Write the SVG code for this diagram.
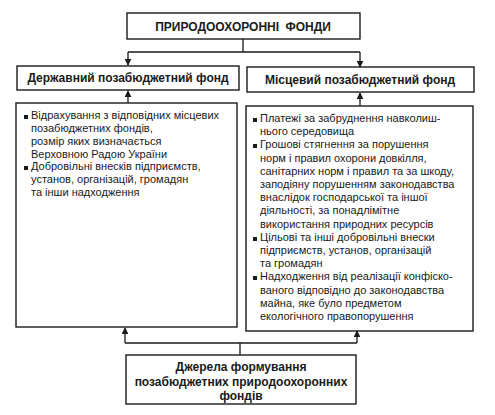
<svg xmlns="http://www.w3.org/2000/svg" width="495" height="415" viewBox="0 0 495 415">
<defs>
<style>
.box{fill:#fff;stroke:#1a1a1a;stroke-width:1.4}
.hd{font-family:"Liberation Sans",Arial,sans-serif;font-weight:bold;font-size:12px;fill:#1a1a1a;text-anchor:middle}
.tx{font-family:"Liberation Sans",Arial,sans-serif;font-size:11px;fill:#1a1a1a}
.ln{fill:none;stroke:#1a1a1a;stroke-width:1.3}
.bl{fill:#1a1a1a}
</style>
<marker id="ah" viewBox="0 0 10 10" refX="9" refY="5" markerWidth="7" markerHeight="7" markerUnits="userSpaceOnUse" orient="auto">
<path d="M0,0 L10,5 L0,10 Z" fill="#1a1a1a"/>
</marker>
</defs>
<rect width="495" height="415" fill="#fff"/>
<g id="connectors">
<path class="ln" d="M243,39 V52 M128,52 H360"/>
<path class="ln" d="M128,52 V65" marker-end="url(#ah)"/>
<path class="ln" d="M360,52 V67" marker-end="url(#ah)"/>
<path class="ln" d="M128,103 V91" marker-end="url(#ah)"/>
<path class="ln" d="M360,106 V93" marker-end="url(#ah)"/>
<path class="ln" d="M240,355 V343 M125,343 H357"/>
<path class="ln" d="M125,343 V328" marker-end="url(#ah)"/>
<path class="ln" d="M357,343 V331" marker-end="url(#ah)"/>
</g>
<g id="root">
<rect class="box" x="127" y="13" width="233" height="26"/>
<text class="hd" x="243" y="31" style="word-spacing:3px">ПРИРОДООХОРОННІ ФОНДИ</text>
</g>
<g id="state-fund">
<rect class="box" x="17" y="66" width="222" height="24"/>
<text class="hd" x="128" y="82">Державний позабюджетний фонд</text>
</g>
<g id="local-fund">
<rect class="box" x="247" y="67" width="227" height="25"/>
<text class="hd" x="360" y="84">Місцевий позабюджетний фонд</text>
</g>
<g id="state-sources">
<rect class="box" x="16" y="103" width="221" height="224"/>
<rect class="bl" x="24" y="115" width="4" height="4"/>
<rect class="bl" x="24" y="166" width="4" height="4"/>
<text class="tx" x="31" y="119">Відрахування з відповідних місцевих</text>
<text class="tx" x="31" y="132">позабюджетних фондів,</text>
<text class="tx" x="31" y="145">розмір яких визначається</text>
<text class="tx" x="31" y="158">Верховною Радою України</text>
<text class="tx" x="31" y="170">Добровільні внесків підприємств,</text>
<text class="tx" x="31" y="183">установ, організацій, громадян</text>
<text class="tx" x="31" y="196">та інши надходження</text>
</g>
<g id="local-sources">
<rect class="box" x="246" y="106" width="227" height="225"/>
<rect class="bl" x="253" y="118" width="4" height="4"/>
<rect class="bl" x="253" y="144" width="4" height="4"/>
<rect class="bl" x="253" y="237" width="4" height="4"/>
<rect class="bl" x="253" y="276" width="4" height="4"/>
<text class="tx" x="260" y="122">Платежі за забруднення навколиш-</text>
<text class="tx" x="260" y="135">нього середовища</text>
<text class="tx" x="260" y="148">Грошові стягнення за порушення</text>
<text class="tx" x="260" y="162">норм і правил охорони довкілля,</text>
<text class="tx" x="260" y="175">санітарних норм і правил та за шкоду,</text>
<text class="tx" x="260" y="188">заподіяну порушенням законодавства</text>
<text class="tx" x="260" y="201">внаслідок господарської та іншої</text>
<text class="tx" x="260" y="214">діяльності, за понадлімітне</text>
<text class="tx" x="260" y="228">використання природних ресурсів</text>
<text class="tx" x="260" y="241">Цільові та інші добровільні внески</text>
<text class="tx" x="260" y="254">підприємств, установ, організацій</text>
<text class="tx" x="260" y="267">та громадян</text>
<text class="tx" x="260" y="280">Надходження від реалізації конфіско-</text>
<text class="tx" x="260" y="294">ваного відповідно до законодавства</text>
<text class="tx" x="260" y="307">майна, яке було предметом</text>
<text class="tx" x="260" y="320">екологічного правопорушення</text>
</g>
<g id="sources-origin">
<rect class="box" x="126" y="355" width="230" height="49"/>
<text class="hd" x="241" y="371">Джерела формування</text>
<text class="hd" x="241" y="386">позабюджетних природоохоронних</text>
<text class="hd" x="241" y="400">фондів</text>
</g>
</svg>
